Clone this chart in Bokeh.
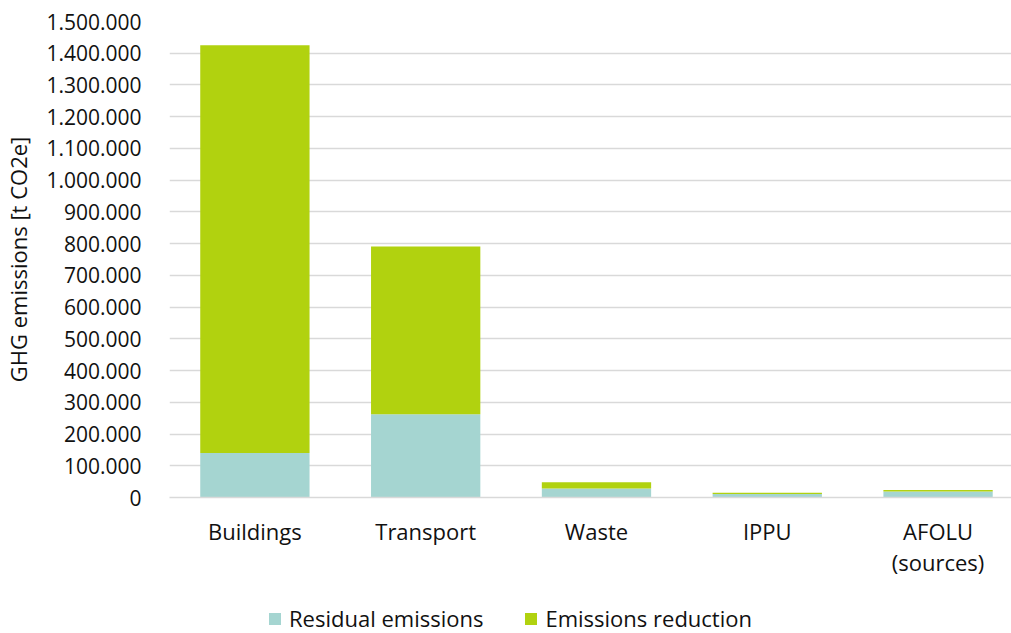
from bokeh.plotting import figure
from bokeh.layouts import column
from bokeh.models import Range1d, FixedTicker, Legend, LegendItem
from bokeh.embed import file_html
from bokeh.resources import INLINE

# Emissions by sector, t CO2e
sectors = ["Buildings", "Transport", "Waste", "IPPU", "AFOLU\n(sources)"]
residual = [140000, 262000, 28000, 11000, 19000]
reduction = [1285000, 529000, 20000, 4000, 5000]
series_names = ["Residual emissions", "Emissions reduction"]
y_ticks = list(range(0, 1500001, 100000))

FONT = "Open Sans"
TEXT = "#111111"
GRID = "#d9d9d9"
COLORS = ["#a5d5d1", "#b1d20f"]

xs = [i + 0.5 for i in range(len(sectors))]

p = figure(width=1011, height=583, output_backend="svg", toolbar_location=None,
           x_range=Range1d(0, 4.93), y_range=Range1d(0, 1500000),
           min_border_left=167, min_border_right=0, min_border_top=21,
           min_border_bottom=86)
p.outline_line_color = None
p.background_fill_color = "white"
p.border_fill_color = "white"

src = dict(x=xs, residual=residual, reduction=reduction)
p.vbar_stack(["residual", "reduction"], x="x", width=0.64, source=src,
             color=COLORS, line_color=None)

# y axis
p.yaxis.ticker = FixedTicker(ticks=y_ticks)
p.yaxis.major_label_overrides = {v: f"{v:,}".replace(",", ".") for v in y_ticks}
p.yaxis.axis_line_color = None
p.yaxis.major_tick_line_color = None
p.yaxis.minor_tick_line_color = None
p.yaxis.major_label_standoff = 22
p.yaxis.major_label_text_font = FONT
p.yaxis.major_label_text_font_size = "21px"
p.yaxis.major_label_text_color = TEXT
p.yaxis.axis_label = "GHG emissions [t CO2e]"
p.yaxis.axis_label_text_font = FONT
p.yaxis.axis_label_text_font_size = "22px"
p.yaxis.axis_label_text_font_style = "normal"
p.yaxis.axis_label_text_color = TEXT
p.yaxis.axis_label_standoff = 10

# x axis
p.xaxis.ticker = FixedTicker(ticks=xs)
p.xaxis.major_label_overrides = {x: s for x, s in zip(xs, sectors)}
p.xaxis.axis_line_color = GRID
p.xaxis.axis_line_width = 1.5
p.xaxis.major_tick_line_color = None
p.xaxis.minor_tick_line_color = None
p.xaxis.major_label_standoff = 12
p.xaxis.major_label_text_font = FONT
p.xaxis.major_label_text_font_size = "22px"
p.xaxis.major_label_text_line_height = 1.05
p.xaxis.major_label_text_color = TEXT

p.xgrid.grid_line_color = None
p.ygrid.grid_line_color = GRID
p.ygrid.grid_line_width = 1.5

# legend strip underneath the chart; its frame lines up with the chart frame
leg = figure(width=1011, height=50, output_backend="svg", toolbar_location=None,
             x_range=Range1d(0, 1), y_range=Range1d(0, 1),
             min_border=0)
leg.axis.visible = False
leg.grid.visible = False
leg.outline_line_color = None
leg.border_fill_color = "white"
# swatch renderers kept outside the visible range; only their legend glyphs show
swatches = [leg.vbar(x=[-5], top=[-5], bottom=[-6], width=0.1, color=c, line_color=None)
            for c in COLORS]

legend = Legend(items=[LegendItem(label=n, renderers=[s]) for n, s in zip(series_names, swatches)],
                orientation="horizontal", location=(98, 0),
                padding=0, margin=0, spacing=40, border_line_color=None,
                background_fill_alpha=0, glyph_width=15, glyph_height=15,
                label_standoff=7, label_text_font=FONT,
                label_text_font_size="22px", label_text_color=TEXT)
leg.add_layout(legend, "center")

layout = column(p, leg, spacing=0)
open("out.html", "w").write(file_html(layout, INLINE))
